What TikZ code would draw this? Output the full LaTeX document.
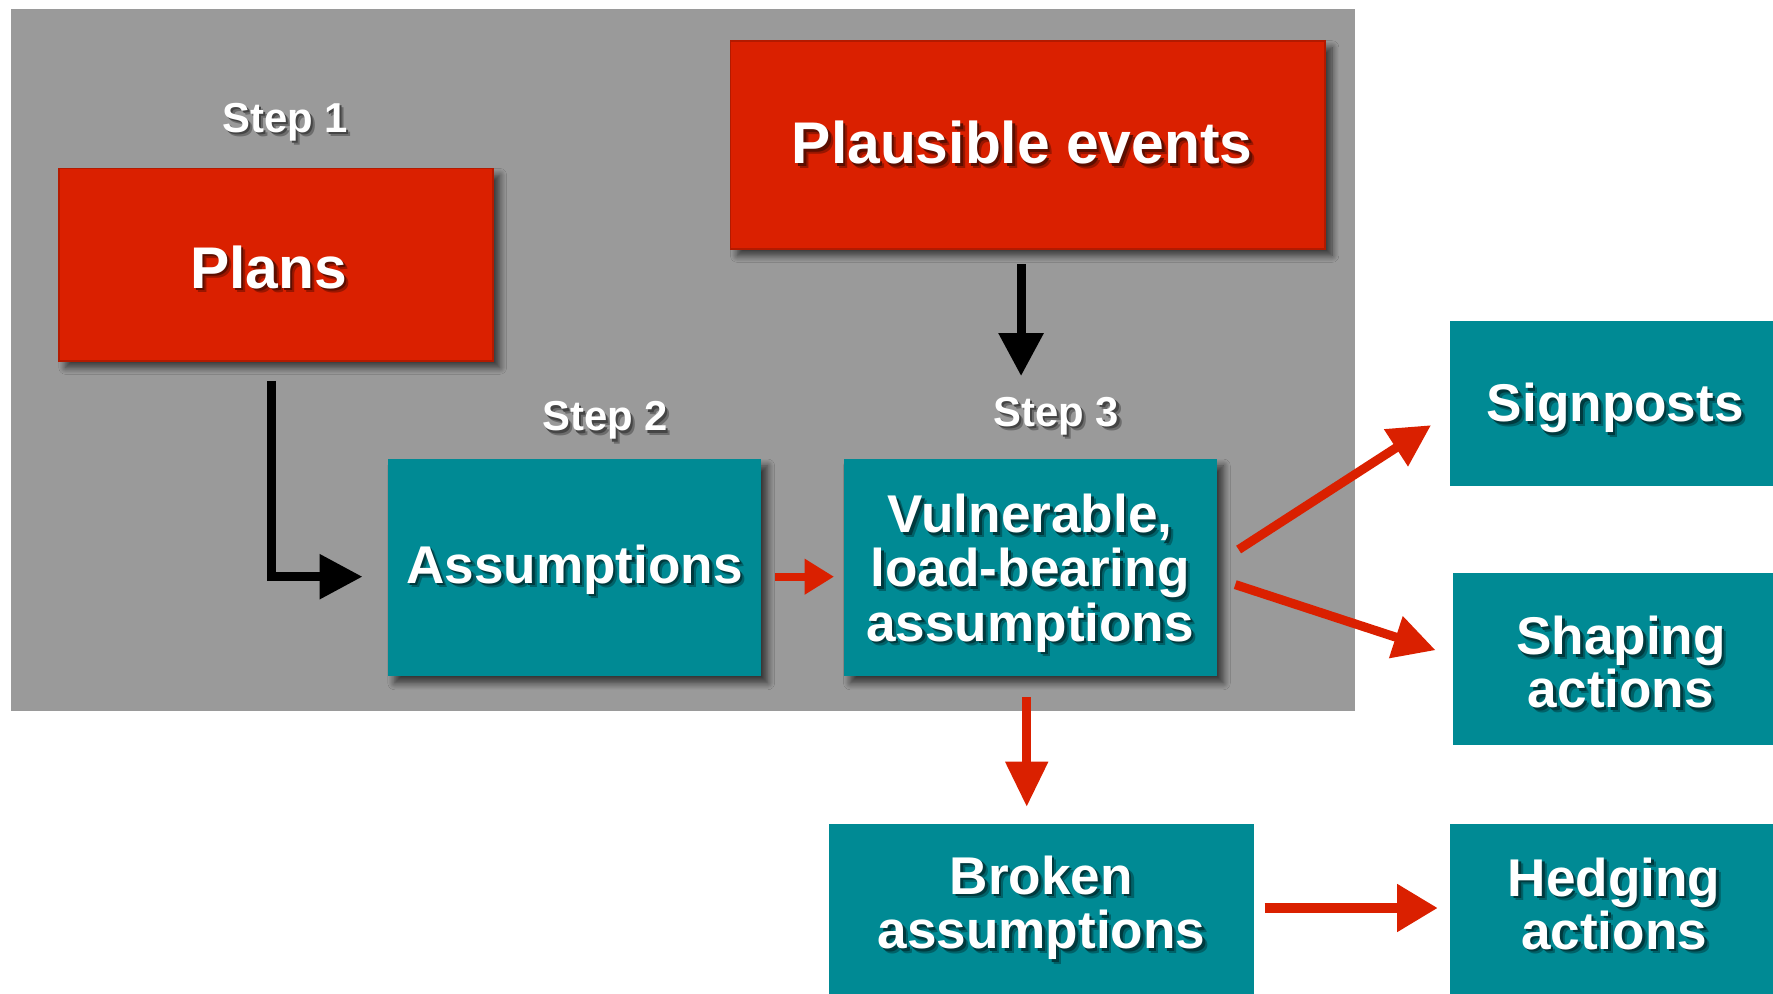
\documentclass[tikz,border=0pt]{standalone}
\usepackage{fontspec}
\setmainfont{Liberation Sans}
\usetikzlibrary{arrows.meta,shadows.blur}

\definecolor{bggray}{RGB}{154,154,154}
\definecolor{boxred}{RGB}{218,32,0}
\definecolor{boxteal}{RGB}{0,138,148}

% font sizes
\newcommand\bigfont{\fontsize{26}{27}\selectfont\bfseries}
\newcommand\boxfont{\fontsize{23.5}{24}\selectfont\bfseries}
\newcommand\stepfont{\fontsize{18.5}{20}\selectfont\bfseries}

% white text with a soft dark drop shadow (colours \shA, \shB set per node)
\newcommand\sh[1]{%
  \makebox[0pt][l]{\kern2pt\raisebox{-2pt}{\textcolor{\shA}{#1}}}%
  \makebox[0pt][l]{\kern1.1pt\raisebox{-1.1pt}{\textcolor{\shB}{#1}}}%
  #1}
% one line whose baseline sits #1 above the node centre
\newcommand\oneline[2]{\raisebox{#1}[0pt][0pt]{#2}}
% centred lines (separated by \cr), first baseline #1 above the node centre, line distance #2
\newcommand\lines[3]{\raisebox{#1}[0pt][0pt]{\vtop{\baselineskip=#2\relax
  \lineskiplimit=-10pt\halign{\hfil##\hfil\cr#3\crcr}}}}

\begin{document}
\begin{tikzpicture}[x=0.5pt,y=-0.5pt,
  boxshadow/.style={blur shadow={shadow xshift=3pt, shadow yshift=-3pt,
      shadow blur radius=3pt, shadow blur steps=8, shadow opacity=65}},
  box/.style={rectangle, inner sep=0pt, text=white},
  redbox/.style={box, fill=boxred, draw=boxred!82!black, line width=0.8pt,
      font=\bigfont, boxshadow,
      execute at begin node={\def\shA{boxred!70!black}\def\shB{boxred!42!black}}},
  tealbox/.style={box, fill=boxteal, font=\boxfont,
      execute at begin node={\def\shA{boxteal!70!black}\def\shB{boxteal!42!black}}},
  steplabel/.style={text=white, font=\stepfont, inner sep=0pt, text depth=0pt,
      execute at begin node={\def\shA{bggray!70!black}\def\shB{bggray!45!black}}},
  blackarrow/.style={draw=black, line width=4pt, line join=miter,
      -{Triangle[length=19pt,width=19pt]}},
  redarrow/.style={draw=boxred, line width=4pt,
      -{Triangle[length=18.5pt,width=18.5pt]}},
  smallredarrow/.style={draw=boxred, line width=3.5pt,
      -{Triangle[length=13pt,width=15pt]}}
]
\useasboundingbox (0,0) rectangle (1568,879);

% grey panel behind steps 1-3
\fill[bggray] (10,8) rectangle (1198,629);

% step labels
\node[steplabel] (s1) at (252,104) {\sh{Step 1}};
\node[steplabel] (s2) at (535,368) {\sh{Step 2}};
\node[steplabel] (s3) at (934,364) {\sh{Step 3}};

% red input boxes
\node[redbox, minimum width=192pt, minimum height=85pt] (plans) at (244,234)
  {\oneline{-10.5pt}{\sh{Plans}}\kern6.5pt};
\node[redbox, minimum width=263pt, minimum height=92pt] (events) at (909,128)
  {\oneline{-8.5pt}{\sh{Plausible events}}\kern5pt};

% teal boxes on the grey panel
\node[tealbox, boxshadow, minimum width=165pt, minimum height=96pt] (assump) at (508,502)
  {\oneline{-7pt}{\sh{Assumptions}}};
\node[tealbox, boxshadow, minimum width=165pt, minimum height=96pt] (vuln) at (911,502)
  {\lines{15.5pt}{24pt}{\sh{Vulnerable,}\cr\sh{load-bearing}\cr\sh{assumptions}}};

% teal result boxes
\node[tealbox, minimum width=146.5pt, minimum height=73pt] (signposts) at (1428.5,357)
  {\oneline{-8pt}{\sh{Signposts}}};
\node[tealbox, minimum width=148.5pt, minimum height=76pt] (shaping) at (1433.5,583)
  {\lines{2pt}{23.5pt}{\sh{Shaping}\cr\sh{actions}}};
\node[tealbox, minimum width=188pt, minimum height=80.5pt] (broken) at (921,809.5)
  {\lines{9.25pt}{24pt}{\sh{Broken}\cr\sh{assumptions}}};
\node[tealbox, minimum width=145.5pt, minimum height=80.5pt] (hedging) at (1427.5,809.5)
  {\lines{8.5pt}{23.5pt}{\sh{Hedging}\cr\sh{actions}}};

% connectors
\draw[blackarrow] ([shift={(-4,17)}]plans.south) |- ([shift={(-22,8)}]assump.west);
\draw[blackarrow] ([shift={(-6,13)}]events.south) -- ([shift={(-8,-73)}]vuln.north);
\draw[smallredarrow] ([shift={(12,8)}]assump.east) -- ([shift={(-8,8)}]vuln.west);
\draw[redarrow] ([shift={(19,-16)}]vuln.east) -- ([shift={(-16,19)}]signposts.west);
\draw[redarrow] ([shift={(16,15)}]vuln.east) -- ([shift={(-15,-8)}]shaping.west);
\draw[redarrow, -{Triangle[length=20pt,width=18pt]}] ([shift={(-3,18)}]vuln.south) -- ([shift={(-13,-15)}]broken.north);
\draw[redarrow, line width=4.5pt, -{Triangle[length=18pt,width=20pt]}] ([shift={(9,-6.5)}]broken.east) -- ([shift={(-10,-6.5)}]hedging.west);
\end{tikzpicture}
\end{document}
